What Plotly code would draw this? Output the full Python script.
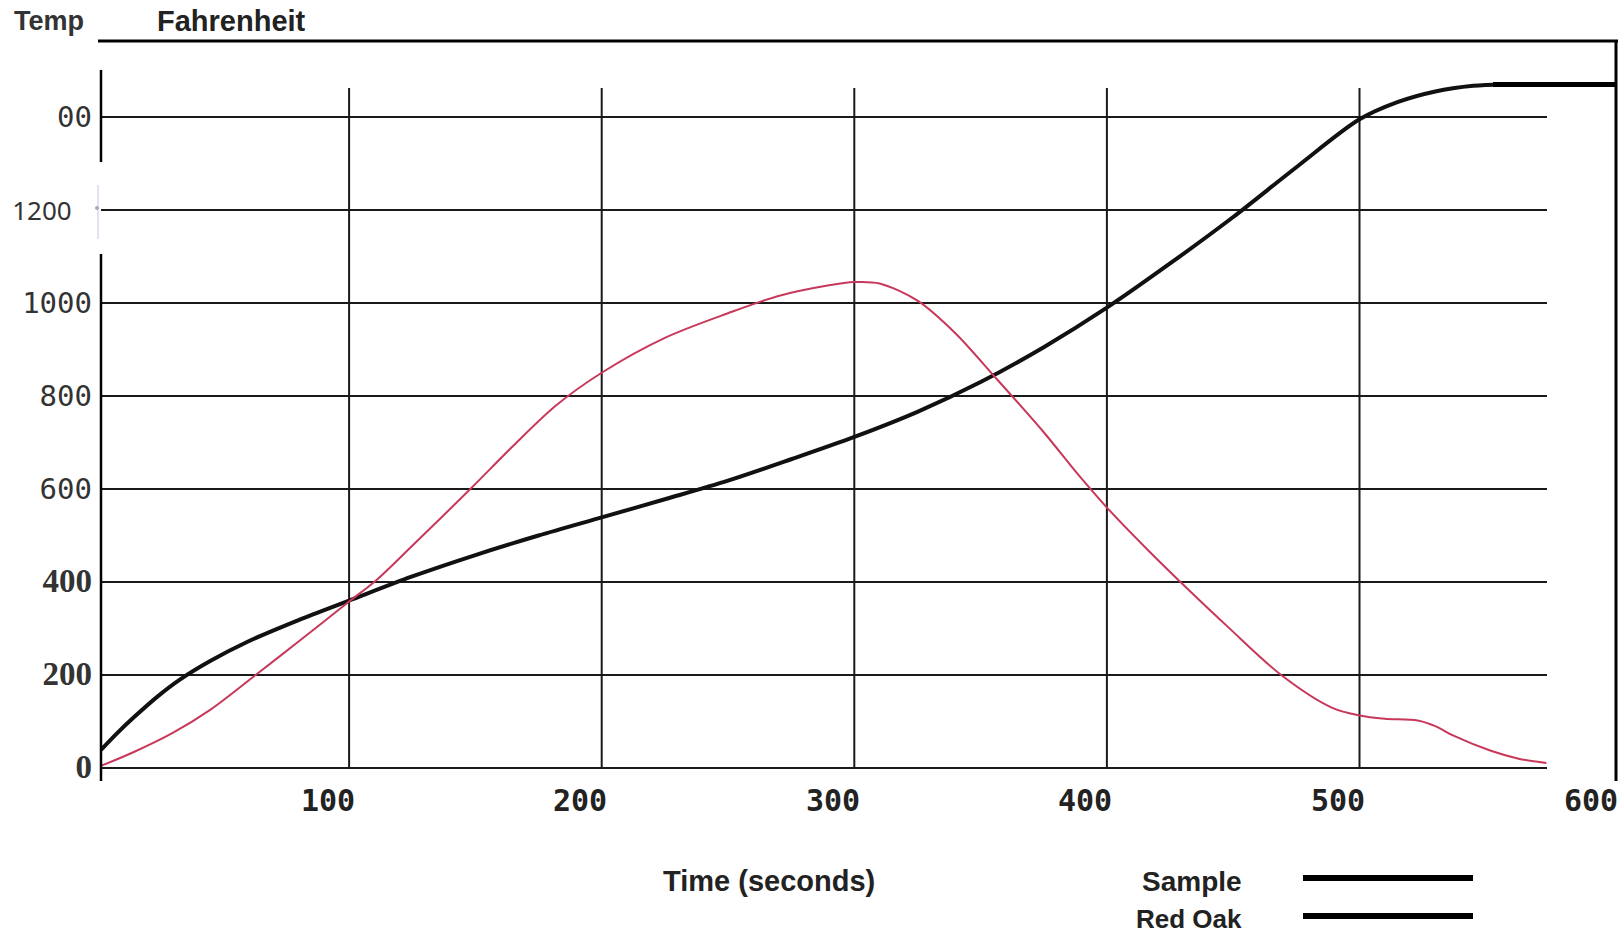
import plotly.graph_objects as go

# ---- data ----
sample_t = [1.8, 8, 15, 24, 33, 45, 60, 80, 100, 125, 150, 175, 200, 225, 250, 275, 300, 325,
            350, 375, 400, 425, 450, 475, 500, 515, 530, 545, 557]
sample_T = [39, 74, 110, 153, 190, 230, 272, 318, 360, 412, 458, 500, 539, 578, 618, 664, 712, 766,
            830, 905, 990, 1085, 1185, 1292, 1395, 1432, 1455, 1467, 1470]

redoak_t = [2, 15, 30, 45, 63, 80, 100, 111, 125, 148, 165, 182, 200, 225, 250, 270, 290, 300,
            310, 325, 340, 355, 375, 388, 400, 416, 432, 448, 469, 489, 500, 510, 523, 530, 537,
            552, 563, 574]
redoak_T = [5, 35, 75, 125, 200, 272, 358, 405, 478, 600, 693, 780, 850, 925, 978, 1015, 1038, 1045,
            1042, 1005, 935, 845, 722, 635, 560, 470, 385, 303, 200, 130, 113, 106, 102, 90, 70,
            37, 20, 11]

y_tick_vals = [0, 200, 400, 600, 800, 1000, 1200, 1400]
y_tick_text = ["0", "200", "400", "600", "800", "1000", "1200", "00"]
x_grid_vals = [100, 200, 300, 400, 500]
x_tick_vals = [100, 200, 300, 400, 500, 600]
x_tick_text = ["100", "200", "300", "400", "500", "600"]
legend_names = ["Sample", "Red Oak"]

# ---- layout geometry ----
W, H = 1621, 938
L, R, T, B = 101, 74, 60, 157
PW, PH = W - L - R, H - T - B
X0PX, XSCALE = 96.5, 2.526   # pixel of t=0, pixels per second
Y0PX, YSCALE = 768, 0.465    # pixel of T=0, pixels per degree
LABEL_SHIFT = 8.5            # x tick labels sit left of their grid lines in the original


def px(X):
    return (X - L) / PW


def py(Y):
    return (H - B - Y) / PH


MONO = "DejaVu Sans Mono"
SERIF = "Liberation Serif"
SANS = "Liberation Sans"

styled = []
for v, t in zip(y_tick_vals, y_tick_text):
    if v in (0, 200, 400):
        styled.append(f"<span style='font-family:{SERIF};font-size:33px'><b>{t}</b></span>")
    elif v == 1200:
        styled.append(f"<span style='font-family:Noto Sans;font-size:26px'>{t}&#160;&#160;&#160;</span>")
    else:
        styled.append(f"<span style='font-family:{MONO};font-size:29px'>{t}</span>")

fig = go.Figure()
fig.add_trace(go.Scatter(x=sample_t, y=sample_T, mode="lines", name=legend_names[0],
                         line=dict(color="#111111", width=4, shape="spline", smoothing=0.9)))
fig.add_trace(go.Scatter(x=redoak_t, y=redoak_T, mode="lines", name=legend_names[1],
                         line=dict(color="#c8385a", width=2, shape="spline", smoothing=0.9)))

shapes = []
top_T = (Y0PX - 88) / YSCALE
for v in x_grid_vals:
    shapes.append(dict(type="line", xref="x", yref="y", x0=v, x1=v, y0=0, y1=top_T,
                       line=dict(color="#1a1a1a", width=2), layer="below"))
# left axis line with a gap
shapes.append(dict(type="line", xref="paper", yref="paper", x0=0, x1=0, y0=py(70), y1=py(162),
                   line=dict(color="#000", width=2.5)))
shapes.append(dict(type="line", xref="paper", yref="paper", x0=0, x1=0, y0=py(254), y1=py(781),
                   line=dict(color="#000", width=2.5)))
shapes.append(dict(type="line", xref="paper", yref="paper", x0=px(98), x1=px(98), y0=py(185), y1=py(239),
                   line=dict(color="#c8c4dc", width=1)))
shapes.append(dict(type="circle", xref="paper", yref="paper", x0=px(95), x1=px(99), y0=py(206), y1=py(210),
                   fillcolor="#a9a6bd", line=dict(width=0)))
# top frame line, right frame line, thick bar continuing the sample curve
shapes.append(dict(type="line", xref="paper", yref="paper", x0=px(98), x1=px(1618), y0=py(41), y1=py(41),
                   line=dict(color="#000", width=3)))
shapes.append(dict(type="line", xref="paper", yref="paper", x0=px(1616), x1=px(1616), y0=py(41), y1=py(781),
                   line=dict(color="#000", width=3)))
bar_y = Y0PX - sample_T[-1] * YSCALE
shapes.append(dict(type="line", xref="paper", yref="paper", x0=px(1493), x1=px(1616), y0=py(bar_y), y1=py(bar_y),
                   line=dict(color="#000", width=5)))
# legend swatches
for yy in [878, 916]:
    shapes.append(dict(type="line", xref="paper", yref="paper", x0=px(1303), x1=px(1473), y0=py(yy), y1=py(yy),
                       line=dict(color="#000", width=6)))

annotations = []
for v, t in zip(x_tick_vals, x_tick_text):
    annotations.append(dict(x=px(X0PX + (v - LABEL_SHIFT) * XSCALE), y=py(800), xref="paper", yref="paper",
                            text=f"<b>{t}</b>", showarrow=False, xanchor="center", yanchor="middle",
                            font=dict(family=MONO, size=30, color="#222")))
annotations.append(dict(x=px(12), y=py(21), xref="paper", yref="paper", text="<b>Temp</b>",
                        showarrow=False, xanchor="left", yanchor="middle",
                        font=dict(family=SANS, size=27, color="#333")))
annotations.append(dict(x=px(155), y=py(21), xref="paper", yref="paper", text="<b>Fahrenheit</b>",
                        showarrow=False, xanchor="left", yanchor="middle",
                        font=dict(family=SANS, size=29, color="#222")))
annotations.append(dict(x=px(769), y=py(881), xref="paper", yref="paper", text="<b>Time (seconds)</b>",
                        showarrow=False, xanchor="center", yanchor="middle",
                        font=dict(family=SANS, size=29, color="#222")))
for name, yy, sz in zip(legend_names, [881, 919], [28, 26]):
    annotations.append(dict(x=px(1244), y=py(yy), xref="paper", yref="paper", text=f"<b>{name}</b>",
                            showarrow=False, xanchor="right", yanchor="middle",
                            font=dict(family=SANS, size=sz, color="#222")))

fig.update_layout(
    width=W, height=H,
    margin=dict(l=L, r=R, t=T, b=B),
    paper_bgcolor="white", plot_bgcolor="white",
    showlegend=False,
    shapes=shapes, annotations=annotations,
    xaxis=dict(range=[(L - X0PX) / XSCALE, (L + PW - X0PX) / XSCALE], showgrid=False, zeroline=False,
               showline=False, showticklabels=False, ticks=""),
    yaxis=dict(range=[(Y0PX - (H - B)) / YSCALE, (Y0PX - T) / YSCALE], tickmode="array",
               tickvals=y_tick_vals, ticktext=styled, showgrid=True, gridcolor="#1a1a1a",
               gridwidth=2, zeroline=False, showline=False, ticks="",
               tickfont=dict(family=MONO, size=29, color="#333"), ticklabelstandoff=8),
)

fig.write_html("out.html", config={"displayModeBar": False},
               post_script="document.body.style.margin='0';document.body.style.overflow='hidden';")
